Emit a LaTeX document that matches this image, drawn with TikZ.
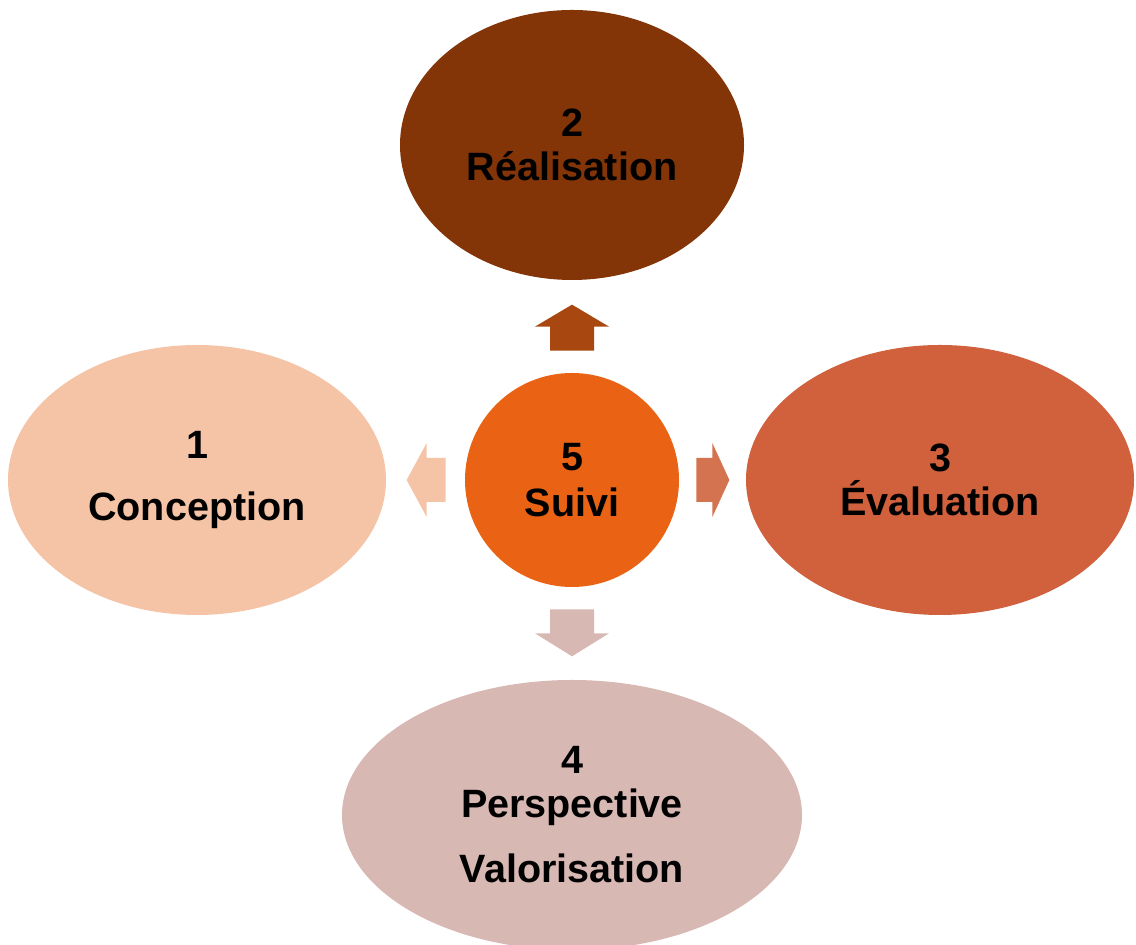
\documentclass[tikz,border=0pt]{standalone}
\usepackage{fontspec}
\setmainfont{Liberation Sans}
\usetikzlibrary{shapes.geometric}
\definecolor{conccolor}{RGB}{245,196,166}
\definecolor{realcolor}{RGB}{131,53,8}
\definecolor{evalcolor}{RGB}{208,97,60}
\definecolor{perscolor}{RGB}{216,184,179}
\definecolor{suivicolor}{RGB}{234,99,21}
\definecolor{uparrowcolor}{RGB}{168,71,15}
\definecolor{rightarrowcolor}{RGB}{212,115,79}
\def\pxu{0.02cm}

\begin{document}
\begin{tikzpicture}[x=\pxu,y=\pxu,
    phase/.style={ellipse,inner sep=0pt,align=center,
      font=\bfseries\fontsize{22.5}{25}\selectfont},
    hub/.style={circle,inner sep=0pt,align=center,minimum size=214*\pxu,
      font=\bfseries\fontsize{22.5}{25}\selectfont},
    pics/blockarrow/.style args={#1/#2}{code={
      \fill (0,-22) -- (#2,-22) -- (#2,-37) -- (#1,0) -- (#2,37) -- (#2,22) -- (0,22) -- cycle;
    }}]
  \useasboundingbox (0,0) rectangle (1136,945);
  \node[hub,fill=suivicolor] (suivi) at (572,465) {5\\[1pt]Suivi};
  \node[phase,fill=realcolor,minimum width=344*\pxu,minimum height=270*\pxu]
    (real) at (572,800) {2\\Réalisation};
  \node[phase,fill=conccolor,minimum width=378*\pxu,minimum height=270*\pxu]
    (conc) at (197,465) {1\\[10pt]Conception};
  \node[phase,fill=evalcolor,minimum width=388*\pxu,minimum height=270*\pxu]
    (eval) at (940,465) {3\\Évaluation};
  \node[phase,fill=perscolor,minimum width=460*\pxu,minimum height=270*\pxu]
    (pers) at (572,130) {4\\Perspective\\[12pt]Valorisation};
  \pic[fill=uparrowcolor,rotate=90] at ([yshift=22*\pxu]suivi.north) {blockarrow=46/24};
  \pic[fill=conccolor,rotate=180] at ([xshift=-19*\pxu]suivi.west) {blockarrow=39/19};
  \pic[fill=rightarrowcolor] at ([xshift=17*\pxu]suivi.east) {blockarrow=33/16};
  \pic[fill=perscolor,rotate=-90] at ([yshift=-22*\pxu]suivi.south) {blockarrow=47/24};
\end{tikzpicture}
\end{document}
